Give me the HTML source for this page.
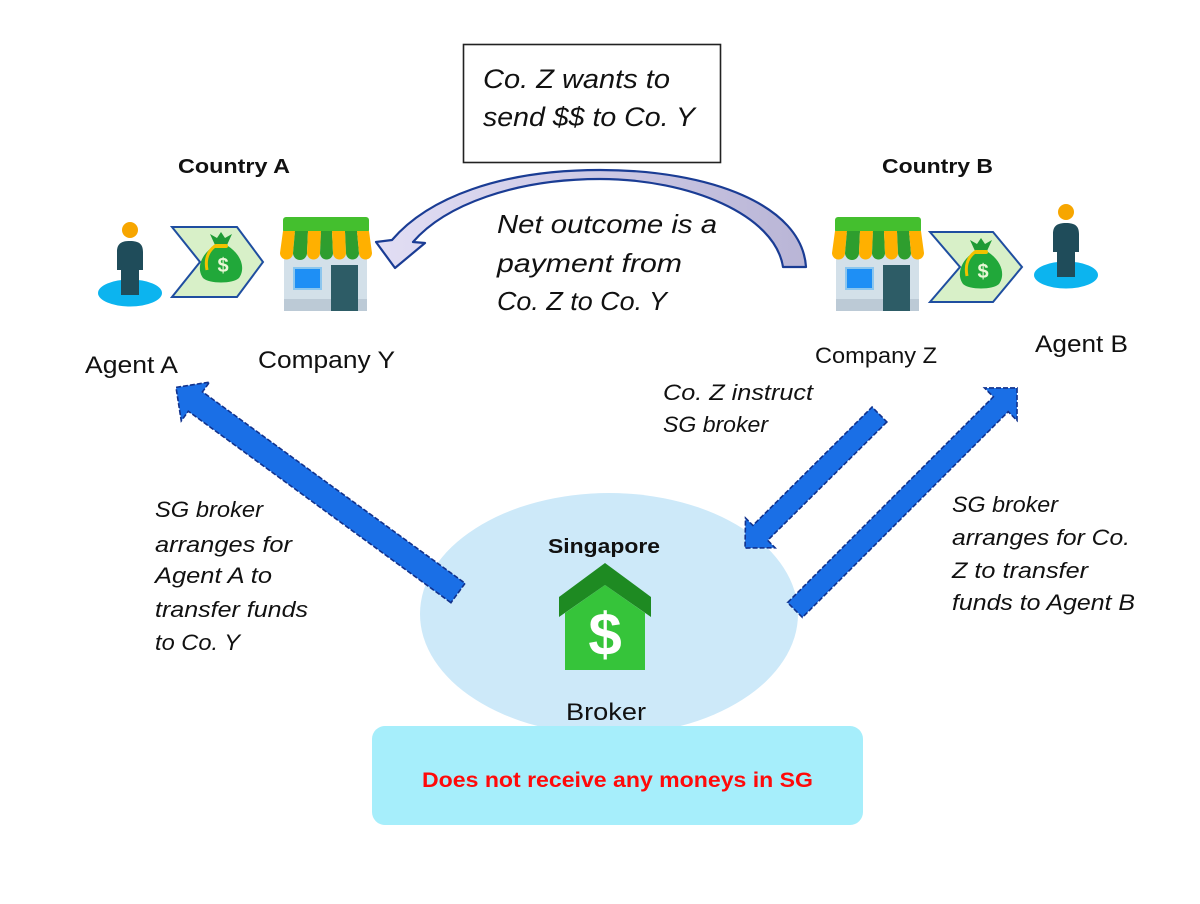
<!DOCTYPE html>
<html><head><meta charset="utf-8"><style>
html,body{margin:0;padding:0;background:#fff;}
svg{display:block;}
text{font-family:"Liberation Sans",sans-serif;}
.it{font-style:italic;fill:#111;}
</style></head><body>
<svg width="1200" height="904" viewBox="0 0 1200 904" xmlns="http://www.w3.org/2000/svg">
<defs>
<linearGradient id="arcg" x1="0" y1="0" x2="1" y2="0">
<stop offset="0" stop-color="#e2def4"/><stop offset="1" stop-color="#b9b5d6"/>
</linearGradient>
<g id="store">
  <rect x="4" y="36" width="83" height="58" fill="#d3e0e9"/>
  <rect x="4" y="82" width="83" height="12" fill="#bccad6"/>
  <rect x="13" y="50" width="29" height="23" fill="#8cc6ee"/>
  <rect x="15" y="52" width="25" height="19" fill="#1e8ff5"/>
  <rect x="51" y="48" width="27" height="46" fill="#2d5c66"/>
  <rect x="3" y="0" width="86" height="16" rx="3" fill="#44bf2e"/>
  <g>
    <path d="M0 36 L3 14 L15 14 L13 36 A6.5 6.5 0 0 1 0 36Z" fill="#ffb000"/>
    <path d="M13 36 L15 14 L28 14 L27 36 A7 7 0 0 1 13 36Z" fill="#2e9e2e"/>
    <path d="M27 36 L28 14 L41 14 L40 36 A6.5 6.5 0 0 1 27 36Z" fill="#ffb000"/>
    <path d="M40 36 L41 14 L52 14 L53 36 A6.5 6.5 0 0 1 40 36Z" fill="#2e9e2e"/>
    <path d="M53 36 L52 14 L65 14 L66 36 A6.5 6.5 0 0 1 53 36Z" fill="#ffb000"/>
    <path d="M66 36 L65 14 L77 14 L79 36 A6.5 6.5 0 0 1 66 36Z" fill="#2e9e2e"/>
    <path d="M79 36 L77 14 L89 14 L92 36 A6.5 6.5 0 0 1 79 36Z" fill="#ffb000"/>
  </g>
</g>
<g id="bag">
  <path d="M-6 -13 L-11 -24 L-4 -20 L0 -26 L4 -20 L11 -24 L6 -13Z" fill="#1f9a35"/>
  <path d="M-7 -12 C-22 -2 -24 12 -18 20 C-12 26 12 26 18 20 C24 12 22 -2 7 -12Z" fill="#21a83a"/>
  <path d="M-6 -12 C-14 -6 -16 2 -14 12" stroke="#f2c200" stroke-width="3" fill="none"/>
  <rect x="-7" y="-14" width="14" height="4" rx="2" fill="#f2c200"/>
  <text x="2" y="14" font-size="20" font-weight="bold" fill="#e9f7d6" text-anchor="middle">$</text>
</g>
<g id="person">
  <ellipse cx="0" cy="63" rx="32" ry="13.5" fill="#0cb4ef"/>
  <circle cx="0" cy="0" r="8" fill="#f7a600"/>
  <path d="M-13 22 C-13 14 -9 11 0 11 C9 11 13 14 13 22 L13 40 L9 40 L9 65 L-9 65 L-9 40 L-13 40Z" fill="#1f4c5a"/>
</g>
</defs>

<!-- Top box -->
<rect x="463.5" y="44.5" width="257" height="118" fill="#fff" stroke="#222" stroke-width="1.6"/>
<text class="it" x="483" y="88" font-size="27" textLength="187" lengthAdjust="spacingAndGlyphs">Co. Z wants to</text>
<text class="it" x="483" y="126" font-size="27" textLength="212" lengthAdjust="spacingAndGlyphs">send $$ to Co. Y</text>

<!-- Curved arrow -->
<path d="M806 267 C802 205 710 170 600 170 C500 170 428 198 392 240 L376 242 L395 268 L425 243 L413 242 C445 205 515 179 600 179 C690 179 775 215 783 267 Z" fill="url(#arcg)" stroke="#1a3c94" stroke-width="2.2" stroke-linejoin="round"/>

<text class="it" x="497" y="233" font-size="26" textLength="220" lengthAdjust="spacingAndGlyphs">Net outcome is a</text>
<text class="it" x="497" y="272" font-size="26" textLength="185" lengthAdjust="spacingAndGlyphs">payment from</text>
<text class="it" x="497" y="310" font-size="26" textLength="170" lengthAdjust="spacingAndGlyphs">Co. Z to Co. Y</text>

<!-- Country labels -->
<text x="178" y="173" font-size="20" font-weight="bold" fill="#111" textLength="112" lengthAdjust="spacingAndGlyphs">Country A</text>
<text x="882" y="173" font-size="20" font-weight="bold" fill="#111" textLength="111" lengthAdjust="spacingAndGlyphs">Country B</text>

<!-- Agent A -->
<use href="#person" transform="translate(130,230)"/>
<polygon points="172,227 237,227 263,262 237,297 172,297 200,262" fill="#d8f0c8" stroke="#1f4ea0" stroke-width="2"/>
<use href="#bag" transform="translate(221,258)"/>
<use href="#store" transform="translate(280,217)"/>

<!-- Company Z side -->
<use href="#store" transform="translate(832,217)"/>
<polygon points="930,232 993,232 1022,267 993,302 930,302 960,267" fill="#d8f0c8" stroke="#1f4ea0" stroke-width="2"/>
<use href="#bag" transform="translate(981,264)"/>
<use href="#person" transform="translate(1066,212)"/>

<text x="85" y="373" font-size="24" fill="#111" textLength="93" lengthAdjust="spacingAndGlyphs">Agent A</text>
<text x="258" y="368" font-size="24" fill="#111" textLength="137" lengthAdjust="spacingAndGlyphs">Company Y</text>
<text x="815" y="363" font-size="22" fill="#111" textLength="122" lengthAdjust="spacingAndGlyphs">Company Z</text>
<text x="1035" y="352" font-size="24" fill="#111" textLength="93" lengthAdjust="spacingAndGlyphs">Agent B</text>

<!-- Singapore ellipse -->
<ellipse cx="609" cy="614" rx="189" ry="121" fill="#cde9f9"/>

<!-- Blue arrows -->
<g fill="#1a6fe6" stroke="#12328c" stroke-width="1.6" stroke-dasharray="5 2" stroke-linejoin="miter">
  <!-- left arrow: tail (458,593) -> tip (177,388) -->
  <polygon transform="translate(458,593) rotate(-143.9)" points="0,-12 325,-12 325,-24 349,0 325,24 325,12 0,12"/>
  <!-- instruct arrow: tail (879.5,414.5) -> tip (745,548) -->
  <polygon transform="translate(879.5,414.5) rotate(135.2)" points="0,-10.5 168,-10.5 168,-21 189.5,0 168,21 168,10.5 0,10.5"/>
  <!-- agent B arrow: tail (795,610) -> tip (1017,388) -->
  <polygon transform="translate(795,610) rotate(-45)" points="0,-10.5 291,-10.5 291,-23 314,0 291,23 291,10.5 0,10.5"/>
</g>

<!-- Arrow labels -->
<text class="it" x="663" y="400" font-size="22" textLength="150" lengthAdjust="spacingAndGlyphs">Co. Z  instruct</text>
<text class="it" x="663" y="432" font-size="22" textLength="105" lengthAdjust="spacingAndGlyphs">SG broker</text>

<text class="it" x="952" y="512" font-size="22" textLength="106" lengthAdjust="spacingAndGlyphs">SG broker</text>
<text class="it" x="952" y="545" font-size="22" textLength="178" lengthAdjust="spacingAndGlyphs">arranges for Co.</text>
<text class="it" x="952" y="578" font-size="22" textLength="136" lengthAdjust="spacingAndGlyphs">Z to transfer</text>
<text class="it" x="952" y="610" font-size="22" textLength="183" lengthAdjust="spacingAndGlyphs">funds to Agent B</text>

<text class="it" x="155" y="517" font-size="22" textLength="108" lengthAdjust="spacingAndGlyphs">SG broker</text>
<text class="it" x="155" y="552" font-size="22" textLength="137" lengthAdjust="spacingAndGlyphs">arranges for</text>
<text class="it" x="155" y="583" font-size="22" textLength="117" lengthAdjust="spacingAndGlyphs">Agent A to</text>
<text class="it" x="155" y="617" font-size="22" textLength="153" lengthAdjust="spacingAndGlyphs">transfer funds</text>
<text class="it" x="155" y="650" font-size="22" textLength="85" lengthAdjust="spacingAndGlyphs">to Co. Y</text>

<!-- Singapore / house -->
<text x="548" y="553" font-size="20" font-weight="bold" fill="#111" textLength="112" lengthAdjust="spacingAndGlyphs">Singapore</text>
<polygon points="565,670 565,613 605,585 645,613 645,670" fill="#36c43a"/>
<polygon points="559,617 559,597 605,563 651,597 651,617 605,585" fill="#1e8a22"/>
<text x="605" y="655" font-size="60" font-weight="bold" fill="#fff" text-anchor="middle">$</text>

<text x="566" y="720" font-size="24" fill="#111" textLength="80" lengthAdjust="spacingAndGlyphs">Broker</text>

<!-- Bottom box -->
<rect x="372" y="726" width="491" height="99" rx="13" fill="#a6eefb"/>
<text x="422" y="787" font-size="21" font-weight="bold" fill="#ff0a0a" textLength="391" lengthAdjust="spacingAndGlyphs">Does not receive any moneys in SG</text>
</svg>
</body></html>
